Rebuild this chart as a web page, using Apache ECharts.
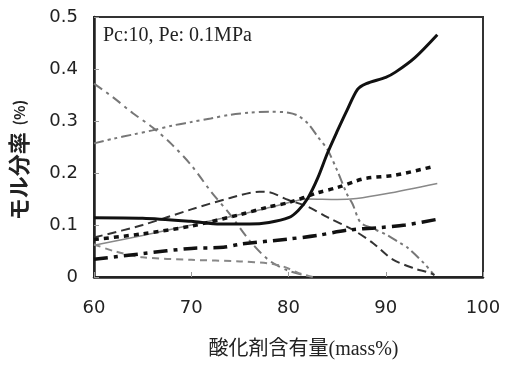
<!DOCTYPE html>
<html>
<head>
<meta charset="utf-8">
<title>モル分率</title>
<script src="https://cdn.jsdelivr.net/npm/echarts@6/dist/echarts.min.js"></script>
<style>
body{margin:0;background:#fff;}
#main{width:506px;height:365px;}
</style>
</head>
<body>
<div id="main"></div>
<script>
// x軸・y軸の目盛り
var xTicks = [60, 70, 80, 90, 100];
var yTicks = [0, 0.1, 0.2, 0.3, 0.4, 0.5];

// 各曲線のデータ [酸化剤含有量, モル分率]
var solidBlack = [[60,0.114],[65,0.113],[70,0.107],[73,0.102],[76,0.102],[78,0.105],[80,0.114],[81,0.128],[82,0.152],[83,0.19],[84,0.238],[85,0.28],[86,0.32],[87.1,0.361],[88,0.372],[90,0.384],[91,0.394],[93,0.422],[95.3,0.466]];
var dotBlack = [[60,0.072],[65,0.083],[70,0.098],[75,0.12],[78,0.135],[80,0.143],[83,0.162],[85,0.172],[87,0.185],[88,0.19],[91,0.196],[95,0.213]];
var thinGray = [[60,0.061],[65,0.08],[70,0.1],[75,0.12],[79,0.138],[82,0.15],[85,0.149],[87,0.151],[90,0.16],[95.3,0.18]];
var dashDark = [[60,0.076],[65,0.1],[70,0.13],[74,0.152],[77,0.164],[78,0.163],[80,0.148],[82,0.135],[84,0.115],[86.6,0.091],[88.7,0.065],[90.7,0.034],[93,0.016],[94.2,0.01],[95,0.004]];
var dashDotBlack = [[60,0.034],[65,0.045],[70,0.055],[73.3,0.057],[75,0.063],[80,0.073],[83,0.08],[86,0.09],[89.4,0.095],[92,0.1],[95.3,0.111]];
var dashGray = [[60,0.063],[62,0.05],[65,0.038],[70,0.033],[75,0.03],[78,0.026],[79.5,0.02],[81,0.008],[82.5,0]];
var dashDotGray = [[60,0.372],[62,0.345],[64,0.315],[66,0.288],[68,0.255],[70,0.215],[72,0.165],[74,0.12],[76,0.07],[78,0.032],[80,0.012],[82,0.002]];
var dashDotDotGray = [[60,0.257],[62,0.266],[64,0.274],[66,0.282],[68,0.291],[70,0.298],[72,0.305],[74,0.312],[76,0.316],[78,0.318],[80,0.316],[81,0.31],[82,0.295],[83,0.27],[84,0.245],[85,0.205],[86,0.16],[86.6,0.14],[87.4,0.105],[88.7,0.093],[90,0.082],[91.5,0.065],[92.2,0.057],[94,0.025],[95,0.003]];

var myChart = echarts.init(document.getElementById('main'));

function line(data, color, width, type){
	return {
		type:'line', data:data, showSymbol:false, smooth:0.3,
		lineStyle:{color:color, width:width, type:type},
		silent:true, animation:false
	};
}

var option = {
	animation:false,
	grid:{left:94, top:17, right:23, bottom:85, show:true, borderColor:'#333', borderWidth:2},
	xAxis:{
		type:'value', min:xTicks[0], max:xTicks[xTicks.length-1], interval:10,
		name:'酸化剤含有量(mass%)', nameLocation:'middle', nameGap:63,
		nameTextStyle:{fontFamily:'Liberation Serif, Noto Sans CJK JP', fontSize:20, color:'#222', padding:[0,0,0,30]},
		axisLine:{lineStyle:{color:'#222', width:2.5}},
		axisTick:{inside:true, length:5, lineStyle:{color:'#999'}},
		axisLabel:{fontFamily:'DejaVu Sans', fontSize:18, color:'#222', margin:22},
		splitLine:{show:false}
	},
	yAxis:{
		type:'value', min:yTicks[0], max:yTicks[yTicks.length-1], interval:0.1,
		name:'{a|モル分率}  {b|(%)}', nameLocation:'middle', nameGap:64, nameRotate:90,
		nameTextStyle:{
			padding:[0,0,0,-26],
			rich:{
				a:{fontFamily:'Noto Sans CJK JP', fontWeight:'bold', fontSize:22, color:'#222'},
				b:{fontFamily:'Noto Sans CJK JP', fontWeight:'bold', fontSize:15, color:'#222'}
			}
		},
		axisLine:{show:true, lineStyle:{color:'#222', width:2.5}},
		axisTick:{show:true, inside:true, length:5, lineStyle:{color:'#999'}},
		axisLabel:{fontFamily:'DejaVu Sans', fontSize:18, color:'#222', margin:16},
		splitLine:{show:false}
	},
	graphic:[{
		type:'text', left:103, top:26,
		style:{text:'Pc:10, Pe: 0.1MPa', font:'20px "Liberation Serif"', fill:'#222'}
	}],
	series:[
		line(dashDotDotGray, '#777', 2, [10,4,3,4,3,4]),
		line(dashDotGray, '#777', 2, [10,5,3,5]),
		line(dashGray, '#888', 2, [7,5]),
		line(thinGray, '#888', 1.5, 'solid'),
		line(dashDark, '#333', 2, [9,5]),
		line(dashDotBlack, '#111', 3.5, [14,6,4,6]),
		line(dotBlack, '#111', 3.5, [5,5]),
		line(solidBlack, '#111', 3, 'solid')
	]
};
myChart.setOption(option);
</script>
</body>
</html>
